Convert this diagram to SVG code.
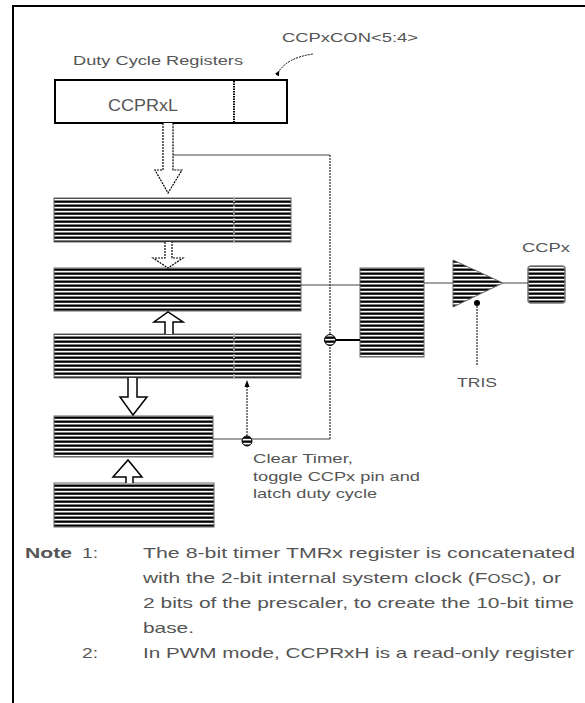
<svg xmlns="http://www.w3.org/2000/svg" width="585" height="703" viewBox="0 0 585 703">
<defs>
<pattern id="st" width="8" height="4" patternUnits="userSpaceOnUse">
<rect width="8" height="4" fill="#fff"/>
<rect y="0.5" width="8" height="2.3" fill="#000"/>
</pattern>
<marker id="ah" viewBox="0 0 6 6" refX="3" refY="3" markerWidth="5" markerHeight="5" orient="auto">
<path d="M0,0 L6,3 L0,6 z" fill="#000"/>
</marker>
</defs>
<style>
.t{font-family:"Liberation Sans",Arial,sans-serif;fill:#555}
.l13{font-size:13px}
.n15{font-size:15px}
.blk{fill:url(#st);stroke:#666;stroke-width:1}
.dash{fill:none;stroke:#000;stroke-width:1;stroke-dasharray:2 1}
.thin{fill:none;stroke:#444;stroke-width:1}
.barrow{fill:#fff;stroke:#000;stroke-width:1.5}
.darrow{fill:#fff;stroke:#000;stroke-width:1.2;stroke-dasharray:2 1}
</style>
<rect width="585" height="703" fill="#fff"/>
<g id="frame">
<line x1="13" y1="6" x2="585" y2="6" stroke="#000" stroke-width="2"/>
<line x1="13" y1="5" x2="13" y2="703" stroke="#000" stroke-width="2"/>
</g>
<g id="ccprxl">
<rect x="55" y="80" width="232" height="43" fill="#fff" stroke="#000" stroke-width="2"/>
<line x1="234" y1="81" x2="234" y2="122" stroke="#000" stroke-width="2" stroke-dasharray="1.5 1"/>
<text class="t" x="108" y="111" font-size="16" textLength="70" lengthAdjust="spacingAndGlyphs">CCPRxL</text>
</g>
<g id="labels">
<text class="t l13" x="73" y="65" textLength="170" lengthAdjust="spacingAndGlyphs">Duty Cycle Registers</text>
<text class="t l13" x="282" y="42" textLength="136" lengthAdjust="spacingAndGlyphs">CCPxCON&lt;5:4&gt;</text>
</g>
<g id="ccprxh">
<rect class="blk" x="54" y="198" width="237" height="44"/>
<line x1="234" y1="198" x2="234" y2="242" stroke="#999" stroke-width="2" stroke-dasharray="1.5 1"/>
</g>
<g id="comparator1">
<rect class="blk" x="54" y="268" width="247" height="43"/>
</g>
<g id="tmrx">
<rect class="blk" x="54" y="334" width="247" height="44"/>
<line x1="234" y1="334" x2="234" y2="378" stroke="#999" stroke-width="2" stroke-dasharray="1.5 1"/>
</g>
<g id="comparator2">
<rect class="blk" x="54" y="416" width="159" height="41"/>
</g>
<g id="pr">
<rect class="blk" x="54" y="483" width="160" height="44"/>
</g>
<g id="latch">
<rect class="blk" x="360" y="268" width="64" height="89"/>
</g>
<g id="buffer">
<polygon points="453,260 503,283 453,307" fill="url(#st)" stroke="#666" stroke-width="1"/>
<circle cx="477" cy="303" r="3" fill="#000"/>
</g>
<g id="pin">
<rect x="528" y="266" width="37" height="37" rx="3" fill="url(#st)" stroke="#777" stroke-width="1.5"/>
<text class="t l13" x="522" y="252" textLength="48" lengthAdjust="spacingAndGlyphs">CCPx</text>
</g>
<g id="tris">
<text class="t l13" x="457" y="387" textLength="40" lengthAdjust="spacingAndGlyphs">TRIS</text>
</g>
<g id="connectors">
<path class="dash" d="M278,73 Q286,58 313,54" marker-start="url(#ah)"/>
<path class="darrow" d="M163,123 L163,170 L155,170 L168,193 L182,170 L173,170 L173,123"/>
<line class="thin" x1="173" y1="155" x2="330" y2="155"/>
<line class="dash" x1="330" y1="155" x2="330" y2="439"/>
<path class="darrow" d="M165,242 L165,258 L153,258 L168,268 L183,258 L172,258 L172,242"/>
<path class="barrow" d="M165,334 L165,322 L154,322 L168,312 L183,322 L173,322 L173,334"/>
<path class="barrow" d="M128,378 L128,397 L120,397 L133,415 L147,397 L137,397 L137,378"/>
<path class="barrow" d="M126,483 L126,477 L113,477 L128,460 L142,477 L133,477 L133,483"/>
<line class="thin" x1="301" y1="285" x2="360" y2="285"/>
<line class="thin" x1="424" y1="283" x2="453" y2="283"/>
<line class="thin" x1="503" y1="283" x2="528" y2="283"/>
<circle cx="330" cy="340" r="5.5" fill="url(#st)" stroke="#000" stroke-width="1"/>
<line x1="335" y1="340" x2="360" y2="340" stroke="#000" stroke-width="2"/>
<line class="thin" x1="213" y1="439" x2="330" y2="439"/>
<circle cx="247" cy="441" r="5" fill="url(#st)" stroke="#000" stroke-width="1"/>
<line class="dash" x1="247" y1="436" x2="247" y2="386"/>
<path d="M244.5,387 L247,380 L249.5,387 z" fill="#000"/>
<line class="dash" x1="477" y1="306" x2="477" y2="365"/>
</g>
<g id="clear-label">
<text class="t l13" x="253" y="463" textLength="100" lengthAdjust="spacingAndGlyphs">Clear Timer,</text>
<text class="t l13" x="253" y="481" textLength="167" lengthAdjust="spacingAndGlyphs">toggle CCPx pin and</text>
<text class="t l13" x="253" y="498" textLength="124" lengthAdjust="spacingAndGlyphs">latch duty cycle</text>
</g>
<g id="notes">
<text class="t n15" x="25" y="558" font-weight="bold" textLength="47" lengthAdjust="spacingAndGlyphs">Note</text>
<text class="t n15" x="82" y="558" textLength="16" lengthAdjust="spacingAndGlyphs">1:</text>
<text class="t n15" x="143" y="558" textLength="432" lengthAdjust="spacingAndGlyphs">The 8-bit timer TMRx register is concatenated</text>
<text class="t n15" x="143" y="583" textLength="418" lengthAdjust="spacingAndGlyphs">with the 2-bit internal system clock (F<tspan font-size="12">OSC</tspan>), or</text>
<text class="t n15" x="143" y="608" textLength="431" lengthAdjust="spacingAndGlyphs">2 bits of the prescaler, to create the 10-bit time</text>
<text class="t n15" x="143" y="633" textLength="51" lengthAdjust="spacingAndGlyphs">base.</text>
<text class="t n15" x="82" y="658" textLength="16" lengthAdjust="spacingAndGlyphs">2:</text>
<text class="t n15" x="143" y="658" textLength="431" lengthAdjust="spacingAndGlyphs">In PWM mode, CCPRxH is a read-only register</text>
</g>
</svg>
